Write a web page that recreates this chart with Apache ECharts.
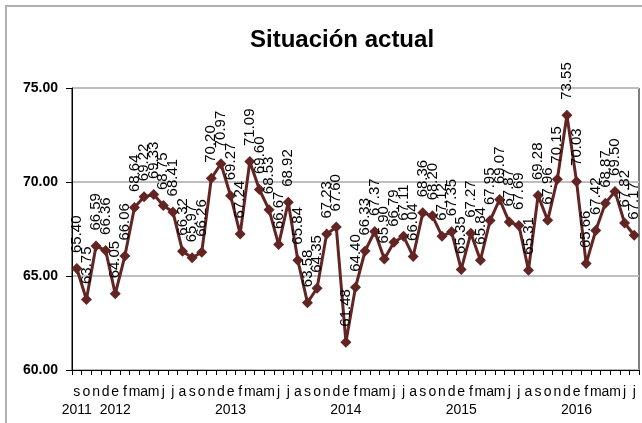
<!DOCTYPE html>
<html>
<head>
<meta charset="utf-8">
<script src="https://cdn.jsdelivr.net/npm/echarts@6/dist/echarts.min.js"></script>
<style>
html,body{margin:0;padding:0;background:#fff;}
#c{width:642px;height:423px;}
</style>
</head>
<body>
<div id="c"></div>
<script>
var months = ['s','o','n','d',
  'e','f','m','a','m','j','j','a','s','o','n','d',
  'e','f','m','a','m','j','j','a','s','o','n','d',
  'e','f','m','a','m','j','j','a','s','o','n','d',
  'e','f','m','a','m','j','j','a','s','o','n','d',
  'e','f','m','a','m','j','j'];
var years = ['2011','','','',
  '2012','','','','','','','','','','','',
  '2013','','','','','','','','','','','',
  '2014','','','','','','','','','','','',
  '2015','','','','','','','','','','','',
  '2016','','','','','',''];
var values = [65.40,63.75,66.59,66.36,
  64.05,66.06,68.64,69.22,69.33,68.75,68.41,66.32,65.97,66.26,70.20,70.97,
  69.27,67.24,71.09,69.60,68.53,66.67,68.92,65.84,63.58,64.35,67.23,67.60,
  61.48,64.40,66.33,67.37,65.90,66.79,67.11,66.04,68.36,68.20,67.12,67.35,
  65.35,67.27,65.84,67.95,69.07,67.87,67.69,65.31,69.28,67.96,70.15,73.55,
  70.03,65.66,67.42,68.87,69.50,67.82,67.17];
var yTicks = [60,65,70,75];
var title = 'Situación actual';

var cats = months.map(function(m,i){ return i; });
var narrow = '"Liberation Sans Narrow","Arial Narrow","Liberation Sans",Arial,sans-serif';
var chart = echarts.init(document.getElementById('c'), null, {renderer:'canvas'});
chart.setOption({
  animation:false,
  backgroundColor:'#fff',
  graphic:[{type:'rect',shape:{x:6,y:6,width:700,height:500},style:{fill:null,stroke:'#b0b0b0',lineWidth:2},silent:true}],
  title:{text:title,left:245,top:23,textStyle:{fontFamily:'"Liberation Sans",Arial,sans-serif',fontWeight:'bold',fontSize:24,color:'#000'}},
  grid:{left:72,top:88,right:3,bottom:53,show:true,borderColor:'#000',borderWidth:1,backgroundColor:'transparent'},
  xAxis:{type:'category',data:cats,boundaryGap:true,
    axisLine:{lineStyle:{color:'#000',width:1}},
    axisTick:{show:true,interval:0,length:5,lineStyle:{color:'#000'}},
    axisLabel:{interval:0,margin:13,color:'#000',fontFamily:narrow,fontSize:14,lineHeight:18,
      formatter:function(v){var i=+v;return months[i]+(years[i]?'\n'+years[i]:'');}},
    splitLine:{show:false}},
  yAxis:{type:'value',min:yTicks[0],max:yTicks[yTicks.length-1],interval:5,
    axisLine:{show:true,lineStyle:{color:'#000',width:1}},
    axisTick:{show:true,length:6,lineStyle:{color:'#000'}},
    axisLabel:{color:'#000',fontWeight:'bold',fontFamily:narrow,fontSize:14,margin:14,
      formatter:function(v){return v.toFixed(2);}},
    splitLine:{show:true,lineStyle:{color:'#bfbfbf',width:2}}},
  series:[{type:'line',data:values,symbol:'diamond',symbolSize:11,
    itemStyle:{color:'#632523'},lineStyle:{color:'#632523',width:3},
    label:{show:true,position:'top',distance:10,rotate:90,align:'left',verticalAlign:'middle',
      color:'#000',fontFamily:narrow,fontSize:15,
      formatter:function(p){return p.value.toFixed(2);}}}]
});
</script>
</body>
</html>
